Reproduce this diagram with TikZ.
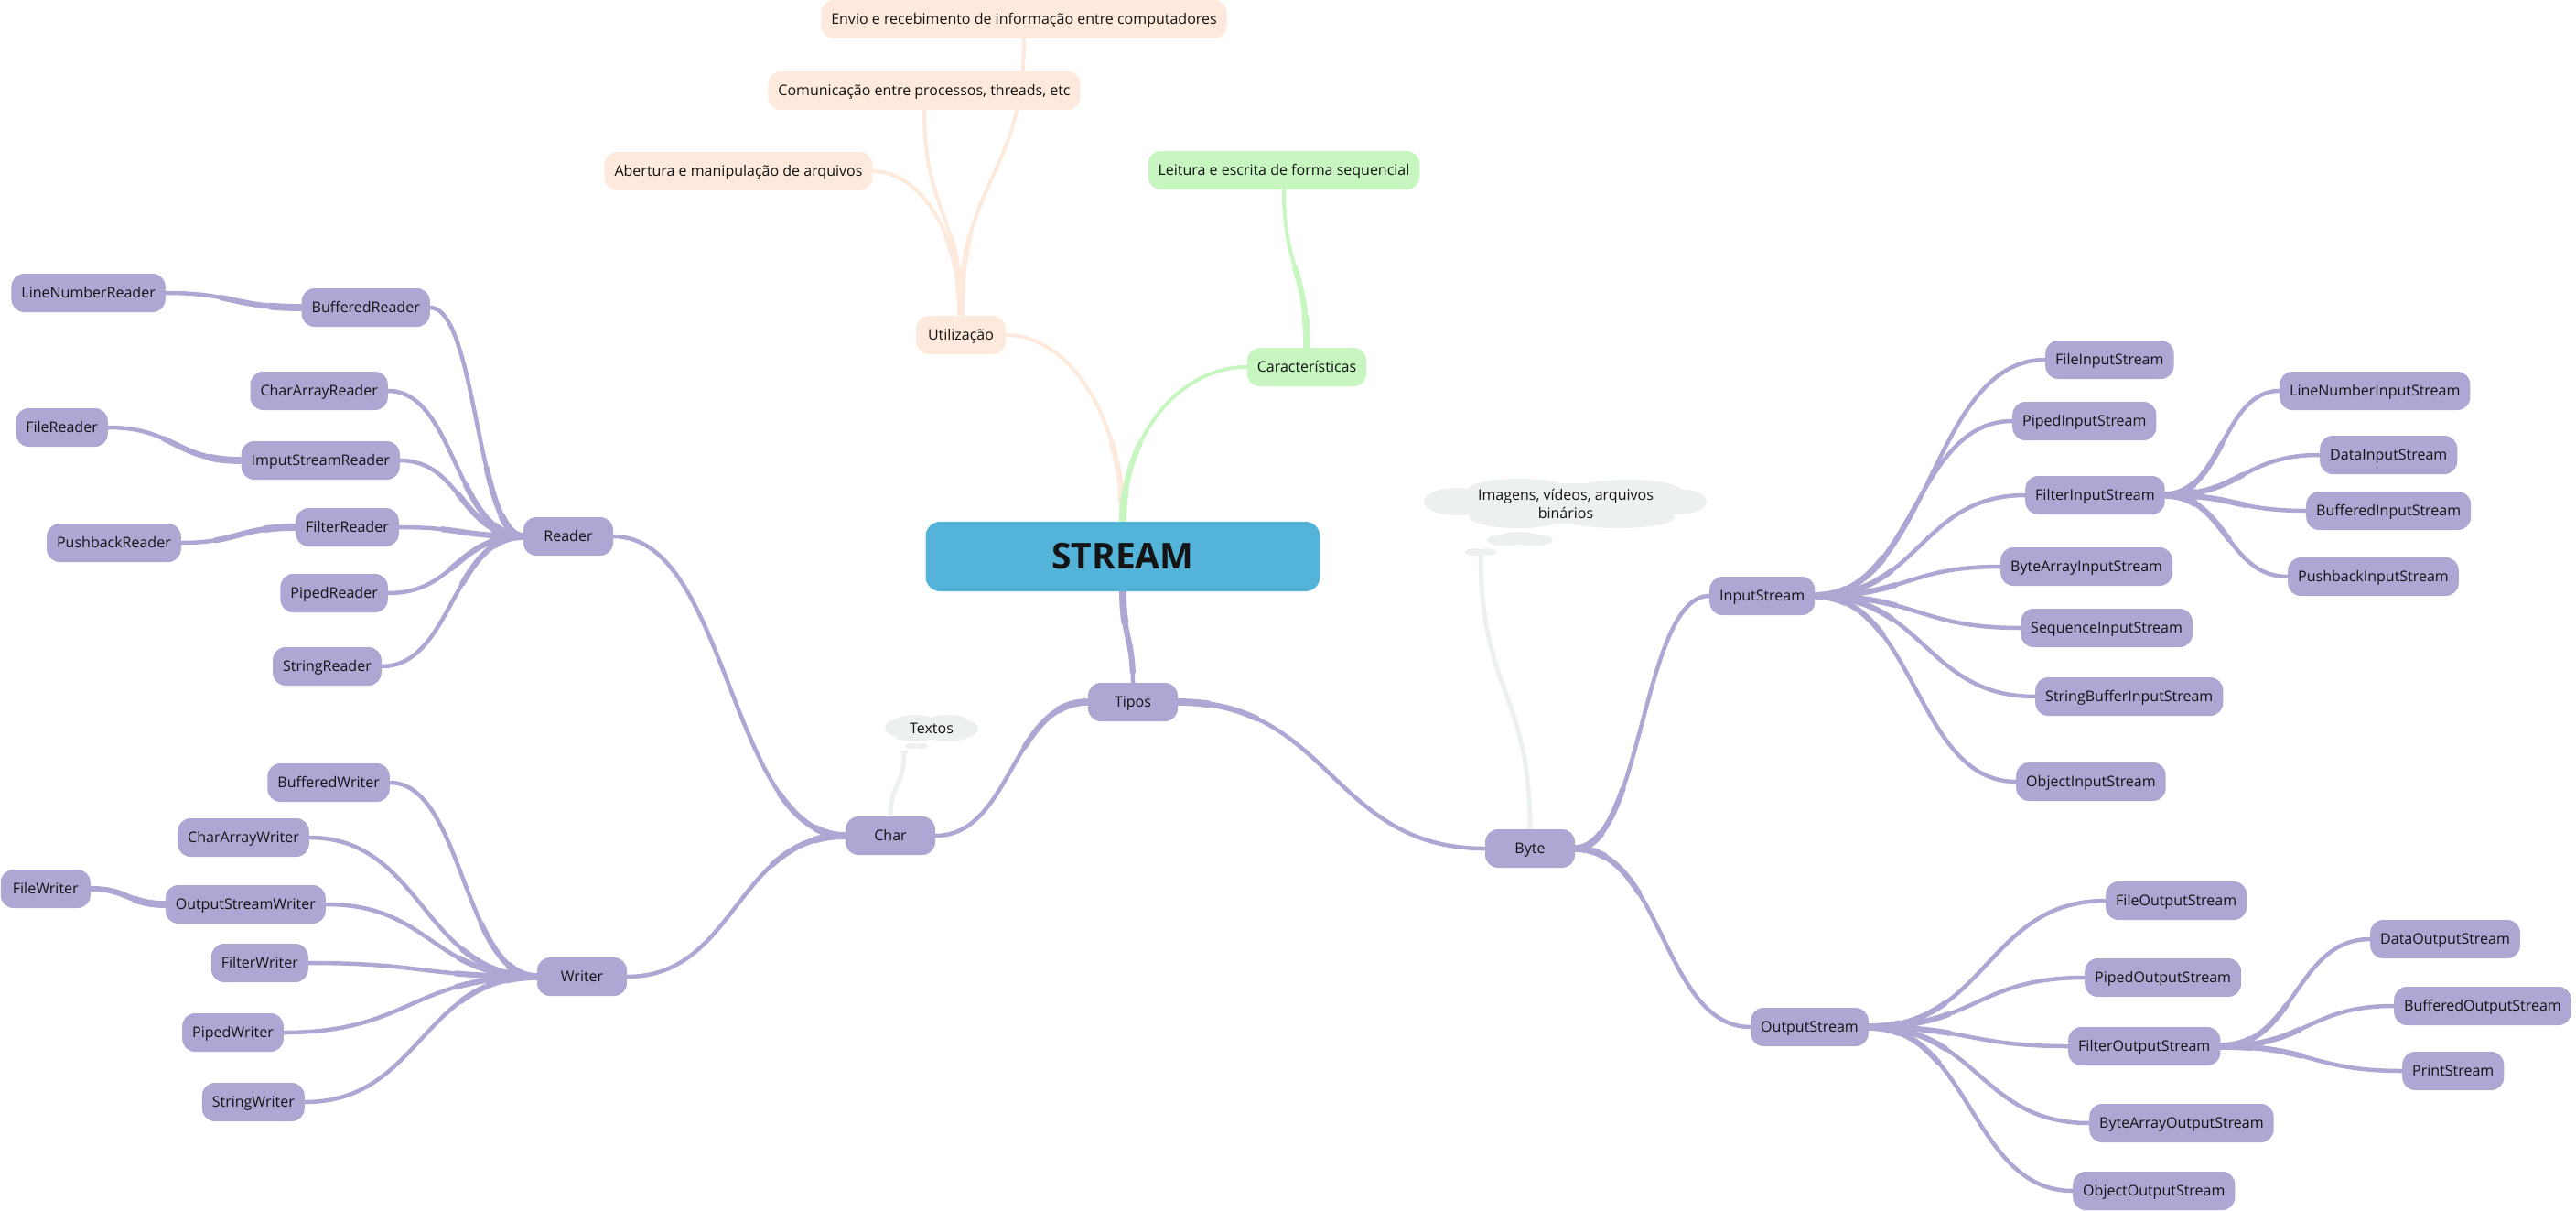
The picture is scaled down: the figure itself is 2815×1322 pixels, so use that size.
\documentclass[tikz,border=0pt]{standalone}
\usepackage{fontspec}
\setmainfont{Open Sans}
\usetikzlibrary{calc}
\pgfdeclarelayer{bg}
\pgfsetlayers{bg,main}
\definecolor{purp}{RGB}{172,167,211}
\definecolor{peach}{RGB}{253,234,221}
\definecolor{mint}{RGB}{199,246,193}
\definecolor{sky}{RGB}{83,179,217}
\definecolor{fog}{RGB}{237,240,240}
\definecolor{ink}{RGB}{20,20,20}
\tikzset{
  basebox/.style={rectangle, rounded corners=14pt, minimum height=42pt, minimum width=98pt,
    inner xsep=11pt, inner ysep=0pt, text height=14pt, text depth=2.6pt, text=ink,
    font=\fontsize{16}{20}\selectfont},
  pn/.style={basebox, fill=purp},
  on/.style={basebox, fill=peach},
  gn/.style={basebox, fill=mint},
  cloudtext/.style={inner sep=0pt, text=ink, font=\fontsize{16}{20}\selectfont, align=center},
  puff/.style={fill=fog, draw=none},
  hh/.style={to path={let \p1=(\tikztostart), \p2=(\tikztotarget),
    \p3=($(\tikztostart)!0.5!(\tikztotarget)$) in
    .. controls (\x3,\y1) and (\x3,\y2) .. (\tikztotarget)}},
  vv/.style={to path={let \p1=(\tikztostart), \p2=(\tikztotarget),
    \p3=($(\tikztostart)!0.5!(\tikztotarget)$) in
    .. controls (\x1,\y3) and (\x2,\y3) .. (\tikztotarget)}},
  vh/.style={to path={let \p1=(\tikztostart), \p2=(\tikztotarget),
    \p4=($(\tikztostart)!0.55!(\tikztotarget)$),
    \p5=($(\tikztotarget)!0.55!(\tikztostart)$) in
    .. controls (\x1,\y4) and (\x5,\y2) .. (\tikztotarget)}},
  pline/.style={draw=purp, line width=4.5pt, line cap=round},
  oline/.style={draw=peach, line width=4pt, line cap=round},
  gline/.style={draw=mint, line width=4pt, line cap=round},
  fline/.style={draw=fog, line width=5pt, line cap=round},
  thick1/.style={line width=6.2pt, line cap=butt, dash pattern=on 90pt off 9000pt},
  thick2/.style={line width=7.8pt, line cap=butt, dash pattern=on 35pt off 9000pt},
}
% tapered connector: #1 line style, #2 path style, #3 start, #4 end
\newcommand\taperconn[4]{%
  \draw[#1] (#3) to[#2] (#4);
  \draw[#1, thick1] (#3) to[#2] (#4);
  \draw[#1, thick2] (#3) to[#2] (#4);
}
\begin{document}
\begin{tikzpicture}[x=1pt,y=-1pt]
\useasboundingbox (0,0) rectangle (2815,1322);

% central
\node[rectangle, rounded corners=16pt, fill=sky, minimum width=431pt, minimum height=76pt,
  inner sep=0pt, text=ink, font=\fontsize{39}{44}\selectfont\bfseries] (STREAM) at (1227,608) {STREAM};

% utilizacao branch
\node[on] (Utilizacao) at (1050,366) {Utilização};
\node[on] (Abertura) at (807,187) {Abertura e manipulação de arquivos};
\node[on] (Comunicacao) at (1010,99) {Comunicação entre processos, threads, etc};
\node[on] (Envio) at (1119,21) {Envio e recebimento de informação entre computadores};

% caracteristicas branch
\node[gn] (Caracteristicas) at (1428,401) {Características};
\node[gn] (Leitura) at (1403,186) {Leitura e escrita de forma sequencial};

% tipos
\node[pn] (Tipos) at (1238,767) {Tipos};
\node[pn] (Char) at (973,913) {Char};
\node[pn] (Byte) at (1672,927) {Byte};

% cloud: Imagens
\fill[puff] (1711,550) ellipse [x radius=128pt, y radius=22pt];
\fill[puff] (1592,548) ellipse [x radius=36pt, y radius=15pt];
\fill[puff] (1833,548) ellipse [x radius=32pt, y radius=14pt];
\fill[puff] (1660,535) ellipse [x radius=56pt, y radius=12pt];
\fill[puff] (1778,536) ellipse [x radius=60pt, y radius=12pt];
\fill[puff] (1658,565) ellipse [x radius=52pt, y radius=12pt];
\fill[puff] (1768,565) ellipse [x radius=62pt, y radius=12pt];
\node[cloudtext] (Imagens) at (1711,550) {Imagens, vídeos, arquivos\\binários};
\fill[puff] (1645,590) ellipse [x radius=20pt, y radius=6.5pt];
\fill[puff] (1676,590) ellipse [x radius=21pt, y radius=6.5pt];
\fill[puff] (1660,588) ellipse [x radius=24pt, y radius=7pt];
\fill[puff] (1611,603) ellipse [x radius=10pt, y radius=3.8pt];
\fill[puff] (1625,603) ellipse [x radius=10pt, y radius=3.8pt];
\coordinate (ic2) at (1618,606);

% cloud: Textos
\fill[puff] (1018,796) ellipse [x radius=42pt, y radius=11pt];
\fill[puff] (979,795) ellipse [x radius=12pt, y radius=9pt];
\fill[puff] (1057,796) ellipse [x radius=12pt, y radius=9pt];
\fill[puff] (1000,788) ellipse [x radius=22pt, y radius=7pt];
\fill[puff] (1036,788) ellipse [x radius=22pt, y radius=7pt];
\fill[puff] (1000,804) ellipse [x radius=22pt, y radius=6pt];
\fill[puff] (1036,804) ellipse [x radius=22pt, y radius=6pt];
\node[cloudtext] (Textos) at (1018,796) {Textos};
\fill[puff] (996,815) ellipse [x radius=7pt, y radius=3.2pt];
\fill[puff] (1007,815) ellipse [x radius=7pt, y radius=3.2pt];
\fill[puff] (988,822) ellipse [x radius=5pt, y radius=2pt];
\coordinate (tc2) at (988,823);

% Reader side
\node[pn] (Reader) at (621,586) {Reader};
\node[pn, anchor=east] (BufferedReader) at (470,336) {BufferedReader};
\node[pn, anchor=east] (LineNumberReader) at (181,320) {LineNumberReader};
\node[pn, anchor=east] (CharArrayReader) at (424,427) {CharArrayReader};
\node[pn, anchor=east] (FileReader) at (118,467) {FileReader};
\node[pn, anchor=east] (ImputStreamReader) at (437,503) {ImputStreamReader};
\node[pn, anchor=east] (FilterReader) at (436,576) {FilterReader};
\node[pn, anchor=east] (PushbackReader) at (198,593) {PushbackReader};
\node[pn, anchor=east] (PipedReader) at (424,648) {PipedReader};
\node[pn, anchor=east] (StringReader) at (417,728) {StringReader};

% Writer side
\node[pn] (Writer) at (636,1067) {Writer};
\node[pn, anchor=east] (BufferedWriter) at (426,855) {BufferedWriter};
\node[pn, anchor=east] (CharArrayWriter) at (338,915) {CharArrayWriter};
\node[pn, anchor=east] (FileWriter) at (99,971) {FileWriter};
\node[pn, anchor=east] (OutputStreamWriter) at (356,988) {OutputStreamWriter};
\node[pn, anchor=east] (FilterWriter) at (337,1052) {FilterWriter};
\node[pn, anchor=east] (PipedWriter) at (310,1128) {PipedWriter};
\node[pn, anchor=east] (StringWriter) at (333,1204) {StringWriter};

% InputStream side
\node[pn, anchor=west] (InputStream) at (1868,651) {InputStream};
\node[pn, anchor=west] (FileInputStream) at (2235,393) {FileInputStream};
\node[pn, anchor=west] (PipedInputStream) at (2199,460) {PipedInputStream};
\node[pn, anchor=west] (FilterInputStream) at (2213,541) {FilterInputStream};
\node[pn, anchor=west] (LineNumberInputStream) at (2491,427) {LineNumberInputStream};
\node[pn, anchor=west] (DataInputStream) at (2535,497) {DataInputStream};
\node[pn, anchor=west] (BufferedInputStream) at (2520,558) {BufferedInputStream};
\node[pn, anchor=west] (PushbackInputStream) at (2500,630) {PushbackInputStream};
\node[pn, anchor=west] (ByteArrayInputStream) at (2186,619) {ByteArrayInputStream};
\node[pn, anchor=west] (SequenceInputStream) at (2208,686) {SequenceInputStream};
\node[pn, anchor=west] (StringBufferInputStream) at (2224,761) {StringBufferInputStream};
\node[pn, anchor=west] (ObjectInputStream) at (2203,854) {ObjectInputStream};

% OutputStream side
\node[pn, anchor=west] (OutputStream) at (1913,1122) {OutputStream};
\node[pn, anchor=west] (FileOutputStream) at (2301,984) {FileOutputStream};
\node[pn, anchor=west] (PipedOutputStream) at (2278,1068) {PipedOutputStream};
\node[pn, anchor=west] (FilterOutputStream) at (2260,1143) {FilterOutputStream};
\node[pn, anchor=west] (DataOutputStream) at (2590,1026) {DataOutputStream};
\node[pn, anchor=west] (BufferedOutputStream) at (2616,1099) {BufferedOutputStream};
\node[pn, anchor=west] (PrintStream) at (2625,1170) {PrintStream};
\node[pn, anchor=west] (ByteArrayOutputStream) at (2283,1227) {ByteArrayOutputStream};
\node[pn, anchor=west] (ObjectOutputStream) at (2265,1301) {ObjectOutputStream};

\begin{pgfonlayer}{bg}
  % orange
  \taperconn{oline}{vh}{STREAM.north}{Utilizacao.east}
  \taperconn{oline}{vh}{Utilizacao.north}{Abertura.east}
  \taperconn{oline}{vv}{Utilizacao.north}{Comunicacao.south}
  \taperconn{oline}{vv}{Utilizacao.north}{Envio.south}
  % green
  \taperconn{gline}{vh}{STREAM.north}{Caracteristicas.west}
  \taperconn{gline}{vv}{Caracteristicas.north}{Leitura.south}
  % gray
  \draw[fline] (Char.north) to[vv] (tc2);
  \draw[fline] (Byte.north) to[vv] (ic2);
  % purple main
  \taperconn{pline}{vv}{STREAM.south}{Tipos.north}
  \taperconn{pline}{hh}{Tipos.west}{Char.east}
  \taperconn{pline}{hh}{Tipos.east}{Byte.west}
  \taperconn{pline}{hh}{Char.west}{Reader.east}
  \taperconn{pline}{hh}{Char.west}{Writer.east}
  \taperconn{pline}{hh}{Byte.east}{InputStream.west}
  \taperconn{pline}{hh}{Byte.east}{OutputStream.west}
  \foreach \c in {BufferedReader,CharArrayReader,ImputStreamReader,FilterReader,PipedReader,StringReader}
    {\taperconn{pline}{hh}{Reader.west}{\c.east}}
  \taperconn{pline}{hh}{BufferedReader.west}{LineNumberReader.east}
  \taperconn{pline}{hh}{ImputStreamReader.west}{FileReader.east}
  \taperconn{pline}{hh}{FilterReader.west}{PushbackReader.east}
  \foreach \c in {BufferedWriter,CharArrayWriter,OutputStreamWriter,FilterWriter,PipedWriter,StringWriter}
    {\taperconn{pline}{hh}{Writer.west}{\c.east}}
  \taperconn{pline}{hh}{OutputStreamWriter.west}{FileWriter.east}
  \foreach \c in {FileInputStream,PipedInputStream,FilterInputStream,ByteArrayInputStream,SequenceInputStream,StringBufferInputStream,ObjectInputStream}
    {\taperconn{pline}{hh}{InputStream.east}{\c.west}}
  \foreach \c in {LineNumberInputStream,DataInputStream,BufferedInputStream,PushbackInputStream}
    {\taperconn{pline}{hh}{FilterInputStream.east}{\c.west}}
  \foreach \c in {FileOutputStream,PipedOutputStream,FilterOutputStream,ByteArrayOutputStream,ObjectOutputStream}
    {\taperconn{pline}{hh}{OutputStream.east}{\c.west}}
  \foreach \c in {DataOutputStream,BufferedOutputStream,PrintStream}
    {\taperconn{pline}{hh}{FilterOutputStream.east}{\c.west}}
\end{pgfonlayer}
\end{tikzpicture}
\end{document}
